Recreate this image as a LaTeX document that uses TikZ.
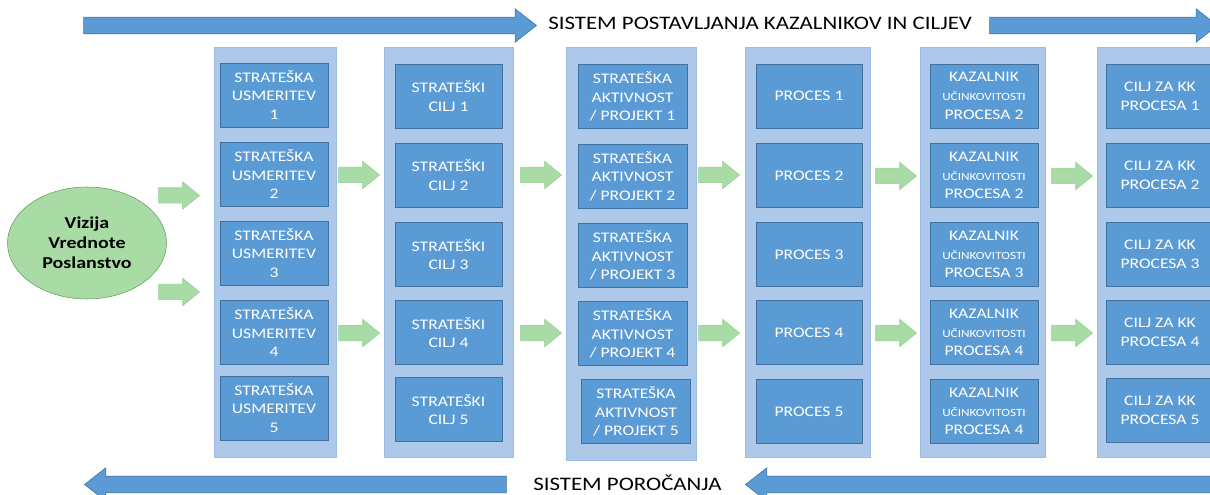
\documentclass[tikz,border=0pt]{standalone}
\usepackage{fontspec}
\setmainfont{Carlito}[FakeStretch=1.2]
\usepackage{tikz}
\usetikzlibrary{shapes}
\usetikzlibrary{shapes.geometric}
\usetikzlibrary{shapes.arrows}
\usetikzlibrary{positioning}
\definecolor{cellblue}{HTML}{5B9BD5}
\definecolor{cellline}{HTML}{41719C}
\definecolor{colbg}{HTML}{ADC8E9}
\definecolor{colline}{HTML}{9BBCE3}
\definecolor{garfill}{HTML}{A9DBA6}
\definecolor{garline}{HTML}{93CF8F}
\definecolor{ellfill}{HTML}{A9DCA5}
\definecolor{ellline}{HTML}{5E9C56}
\tikzstyle{col} = [rectangle, fill=colbg, draw=colline, minimum height=307.5pt, inner sep=0pt]
\tikzstyle{cell} = [rectangle, fill=cellblue, draw=cellline, text=white, minimum width=81pt, minimum height=48pt, inner sep=0pt, align=center, font=\fontsize{11}{14}\selectfont]
\tikzstyle{garrow} = [single arrow, anchor=tip, fill=garfill, draw=garline, minimum height=30.75pt, minimum width=20.25pt, single arrow head extend=4.5pt, single arrow tip angle=78, inner xsep=0pt, inner ysep=5.6pt]
\tikzstyle{barrow} = [single arrow, anchor=tip, fill=cellblue, draw=cellline, minimum width=24.75pt, single arrow head extend=6.4pt, single arrow tip angle=76, inner xsep=0pt, inner ysep=6pt]
\tikzstyle{sistem} = [anchor=base west, inner sep=0pt, font=\fontsize{14.3}{17}\selectfont]
\newcommand{\ucink}{{\fontsize{8.25}{10}\selectfont UČINKOVITOSTI}}

\begin{document}
\begin{tikzpicture}[x=0.75pt, y=-0.75pt]
\useasboundingbox (0,0) rectangle (1210,495);
\clip (0,0) rectangle (1210,495);
% sistem arrows
\node [barrow, minimum height=339.75pt] (topL) at (537, 25.5) {};
\node [barrow, minimum height=171pt] (topR) at (1218, 25.5) {};
\node [barrow, minimum height=316.5pt, shape border rotate=180] (botL) at (84, 484.5) {};
\node [barrow, minimum height=352.5pt, shape border rotate=180] (botR) at (745, 484.5) {};
\node [sistem] (postav) at (548, 29.5) {SISTEM POSTAVLJANJA KAZALNIKOV IN CILJEV};
\node [sistem] (porocanje) at (533, 490) {SISTEM POROČANJA};
% vizija
\node [ellipse, fill=ellfill, draw=ellline, minimum width=119.25pt, minimum height=84pt, inner sep=0pt, align=center, font=\bfseries\fontsize{12.5}{15}\selectfont] (vizija) at (87, 243) {Vizija\\Vrednote\\Poslanstvo};
% columns
\node [col, minimum width=91.5pt] (col1) at (275, 252) {};
\node [col, minimum width=96.75pt] (col2) at (448.5, 252) {};
\node [col, minimum width=97.5pt, minimum height=309.75pt] (col3) at (631, 253.5) {};
\node [col, minimum width=93.75pt] (col4) at (807.5, 252) {};
\node [col, minimum width=93.75pt] (col5) at (982.5, 252) {};
\node [col, minimum width=93.75pt] (col6) at (1159.5, 252) {};
% strateske usmeritve
\node [cell] (u1) at (274, 95) {STRATEŠKA\\USMERITEV\\1};
\node [cell] (u2) at (274, 174) {STRATEŠKA\\USMERITEV\\2};
\node [cell] (u3) at (274, 253) {STRATEŠKA\\USMERITEV\\3};
\node [cell] (u4) at (274, 332) {STRATEŠKA\\USMERITEV\\4};
\node [cell] (u5) at (274, 408) {STRATEŠKA\\USMERITEV\\5};
% strateski cilji
\node [cell, minimum width=80.25pt] (c1) at (448.5, 96) {STRATEŠKI\\CILJ 1};
\node [cell, minimum width=80.25pt] (c2) at (448.5, 175) {STRATEŠKI\\CILJ 2};
\node [cell, minimum width=80.25pt] (c3) at (448.5, 254.5) {STRATEŠKI\\CILJ 3};
\node [cell, minimum width=80.25pt] (c4) at (448.5, 332.5) {STRATEŠKI\\CILJ 4};
\node [cell, minimum width=80.25pt] (c5) at (448.5, 409.5) {STRATEŠKI\\CILJ 5};
% aktivnosti
\node [cell, minimum width=81.75pt] (a1) at (632.5, 96.5) {STRATEŠKA\\AKTIVNOST\\/ PROJEKT 1};
\node [cell, minimum width=81.75pt] (a2) at (632.5, 176) {STRATEŠKA\\AKTIVNOST\\/ PROJEKT 2};
\node [cell, minimum width=81.75pt] (a3) at (632.5, 255.5) {STRATEŠKA\\AKTIVNOST\\/ PROJEKT 3};
\node [cell, minimum width=81.75pt] (a4) at (632.5, 333.5) {STRATEŠKA\\AKTIVNOST\\/ PROJEKT 4};
\node [cell, minimum width=81.75pt] (a5) at (636, 411.5) {STRATEŠKA\\AKTIVNOST\\/ PROJEKT 5};
% procesi
\node [cell, minimum width=79.5pt] (p1) at (809, 96) {PROCES 1};
\node [cell, minimum width=79.5pt] (p2) at (809, 175.5) {PROCES 2};
\node [cell, minimum width=79.5pt] (p3) at (809, 254.5) {PROCES 3};
\node [cell, minimum width=79.5pt] (p4) at (809, 332.5) {PROCES 4};
\node [cell, minimum width=79.5pt] (p5) at (809, 411.5) {PROCES 5};
% kazalniki
\node [cell] (k1) at (984, 96) {KAZALNIK\\\ucink\\PROCESA 2};
\node [cell] (k2) at (984, 175.5) {KAZALNIK\\\ucink\\PROCESA 2};
\node [cell] (k3) at (984, 254.5) {KAZALNIK\\\ucink\\PROCESA 3};
\node [cell] (k4) at (984, 332.5) {KAZALNIK\\\ucink\\PROCESA 4};
\node [cell] (k5) at (984, 411.5) {KAZALNIK\\\ucink\\PROCESA 4};
% cilji za kk
\node [cell] (z1) at (1160, 96) {CILJ ZA KK\\PROCESA 1};
\node [cell] (z2) at (1160, 175.5) {CILJ ZA KK\\PROCESA 2};
\node [cell] (z3) at (1160, 254.5) {CILJ ZA KK\\PROCESA 3};
\node [cell] (z4) at (1160, 332.5) {CILJ ZA KK\\PROCESA 4};
\node [cell] (z5) at (1160, 410.5) {CILJ ZA KK\\PROCESA 5};
% green arrows
\node [garrow] (g01a) at (200, 195.5) {};
\node [garrow] (g01b) at (200, 292) {};
\node [garrow] (g12a) at (380, 175) {};
\node [garrow] (g12b) at (380, 333) {};
\node [garrow] (g23a) at (562, 175) {};
\node [garrow] (g23b) at (562, 333) {};
\node [garrow] (g34a) at (740, 175) {};
\node [garrow] (g34b) at (740, 333) {};
\node [garrow] (g45a) at (917, 176) {};
\node [garrow] (g45b) at (917, 333) {};
\node [garrow] (g56a) at (1093, 176) {};
\node [garrow] (g56b) at (1093, 333) {};
\end{tikzpicture}
\end{document}
